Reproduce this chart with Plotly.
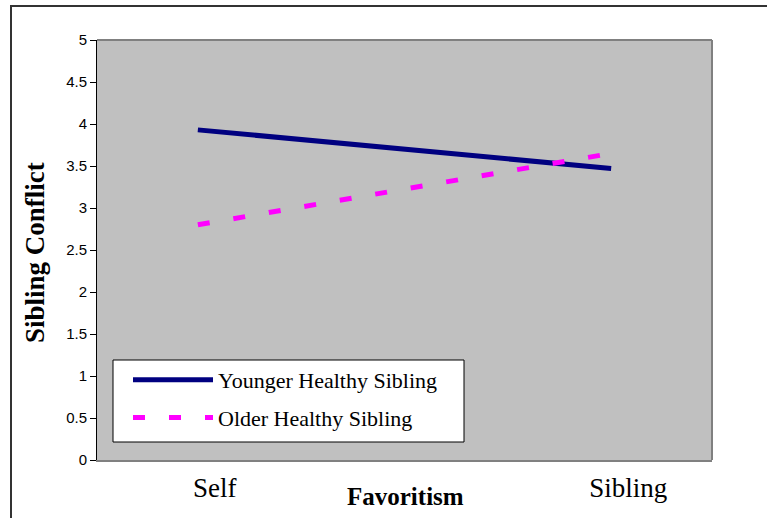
import plotly.graph_objects as go

categories = ["Self", "Sibling"]
younger = [3.93, 3.47]
older = [2.80, 3.65]
series_names = ["Younger Healthy Sibling", "Older Healthy Sibling"]
y_ticks = [0, 0.5, 1, 1.5, 2, 2.5, 3, 3.5, 4, 4.5, 5]
y_ticklabels = ["0", "0.5", "1", "1.5", "2", "2.5", "3", "3.5", "4", "4.5", "5"]
x_title = "Favoritism"
y_title = "Sibling Conflict"

fig = go.Figure()
fig.add_trace(go.Scatter(
    x=categories, y=younger, mode="lines", name=series_names[0],
    line=dict(color="#000080", width=5), legendgroup="a"))
fig.add_trace(go.Scatter(
    x=categories, y=older, mode="lines", name=series_names[1],
    line=dict(color="#FF00FF", width=5, dash="12px,24px"), legendgroup="b"))

L, R, T, B = 97, 55, 40, 58
W, H = 767, 518
pw, ph = W - L - R, H - T - B

def px(x):
    return (x - L) / pw

def py(y):
    return (H - B - y) / ph

fig.update_layout(
    width=W, height=H,
    margin=dict(l=L, r=R, t=T, b=B, autoexpand=False),
    paper_bgcolor="white",
    plot_bgcolor="#C0C0C0",
    showlegend=True,
    legend=dict(
        x=px(128), y=py(359), xanchor="left", yanchor="top",
        bgcolor="rgba(0,0,0,0)", borderwidth=0,
        font=dict(family="Liberation Serif", size=22, color="black"),
        tracegroupgap=6, traceorder="grouped", itemwidth=80,
    ),
    xaxis=dict(
        type="category", range=[-0.244, 1.244], automargin=False,
        showgrid=False, zeroline=False,
        showline=True, linecolor="#808080", linewidth=2, mirror=False,
        ticks="", ticklabelshift=17, ticklabelstandoff=3,
        tickfont=dict(family="Liberation Serif", size=27, color="black"),
    ),
    yaxis=dict(
        range=[0, 5], tickvals=y_ticks, ticktext=y_ticklabels, automargin=False,
        showgrid=False, zeroline=False,
        showline=True, linecolor="black", linewidth=1,
        ticks="outside", ticklen=6, tickcolor="black",
        tickfont=dict(family="Liberation Sans", size=15, color="black"),
    ),
    annotations=[
        dict(text="<b>" + x_title + "</b>", xref="paper", yref="paper",
             x=px(405), y=py(497), xanchor="center", yanchor="middle", showarrow=False,
             font=dict(family="Liberation Serif", size=25, color="black")),
        dict(text="<b>" + y_title + "</b>", xref="paper", yref="paper",
             x=px(35), y=py(253), xanchor="center", yanchor="middle", showarrow=False,
             textangle=-90,
             font=dict(family="Liberation Serif", size=27, color="black")),
    ],
    shapes=[
        dict(type="line", xref="paper", yref="paper", x0=0, x1=1, y0=1, y1=1,
             line=dict(color="#808080", width=2)),
        dict(type="line", xref="paper", yref="paper", x0=1, x1=1, y0=0, y1=1,
             line=dict(color="#808080", width=2)),
        dict(type="rect", xref="paper", yref="paper",
             x0=px(11), x1=1.3, y0=py(6), y1=-0.3,
             line=dict(color="#333333", width=2), layer="below"),
        dict(type="rect", xref="paper", yref="paper",
             x0=px(113), x1=px(464), y0=py(442), y1=py(360),
             fillcolor="white", line=dict(color="black", width=1), layer="above"),
    ],
)

fig.write_html("out.html", config={"displayModeBar": False},
               post_script="document.body.style.margin='0';")
